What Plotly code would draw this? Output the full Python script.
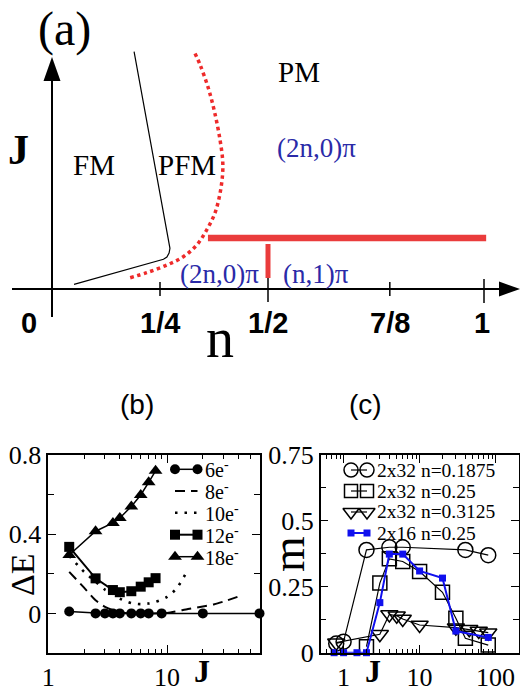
import math
import plotly.graph_objects as go

W, H = 520, 691
SERIF = "Liberation Serif"
SANS = "Liberation Sans"
BLUE_TXT = "#2a2aa8"
RED = "#ee2a2a"
BLUE = "#1010ee"

# ---------------- panel (a): schematic phase diagram (n, J units) ----------------
a_tick_n = [0.25, 0.5, 0.782, 1.0]
a_tick_labels = ["1/4", "1/2", "7/8", "1"]
a_tick_up = [0.07, 0.11, 0.07, 0.10]
a_tick_down = [0.07, 0.13, 0.07, 0.14]
fm_boundary_n = [0.051, 0.258, 0.266, 0.271, 0.273, 0.190]
fm_boundary_J = [0.047, 0.297, 0.32, 0.36, 0.407, 2.373]
pfm_boundary_n = [0.181, 0.219, 0.266, 0.304, 0.335, 0.358, 0.377, 0.389, 0.395,
                  0.395, 0.389, 0.377, 0.362, 0.343, 0.331]
pfm_boundary_J = [0.113, 0.163, 0.24, 0.323, 0.44, 0.59, 0.757, 0.957, 1.157,
                  1.29, 1.49, 1.757, 2.007, 2.24, 2.357]
bar_h_n = [0.361, 1.005]
bar_h_J = [0.51, 0.51]
bar_v_n = [0.5, 0.5]
bar_v_J = [0.45, 0.11]

# ---------------- panel (b): Delta E vs J ----------------
b_J_6 = [1.5, 2.5, 3, 3.5, 4, 5, 6, 7, 9, 20, 60]
b_dE_6 = [0.01, 0, 0, 0, 0, 0, 0, 0, 0, 0, 0]
b_J_8 = [1.5, 2, 2.5, 3, 3.5, 4, 5, 7, 10, 15, 20, 25, 30, 42]
b_dE_8 = [0.21, 0.13, 0.066, 0.033, 0.016, 0.005, 0.0, 0.0, 0.002, 0.022, 0.035, 0.046, 0.06, 0.09]
b_J_10 = [1.5, 2, 2.5, 3, 3.5, 4, 5, 6, 7, 8, 10, 12, 14.5]
b_dE_10 = [0.29, 0.21, 0.16, 0.12, 0.1, 0.075, 0.052, 0.047, 0.05, 0.058, 0.083, 0.125, 0.205]
b_J_12 = [1.5, 2.5, 3.5, 4, 5, 6, 7, 8]
b_dE_12 = [0.336, 0.177, 0.118, 0.107, 0.112, 0.135, 0.157, 0.178]
b_J_18 = [1.5, 2.5, 3.5, 4, 5, 6, 7, 8]
b_dE_18 = [0.295, 0.415, 0.457, 0.482, 0.54, 0.598, 0.662, 0.72]
b_legend = ["6e<sup>-</sup>", "8e<sup>-</sup>", "10e<sup>-</sup>", "12e<sup>-</sup>", "18e<sup>-</sup>"]
b_xticks = [1, 10]
b_xminor = [2, 3, 4, 5, 6, 7, 8, 9, 20, 30, 40, 50]
b_yticks = [0, 0.4, 0.8]
b_yticklabels = ["0", "0.4", "0.8"]
b_yminor = [0.2, 0.6]

# ---------------- panel (c): m vs J ----------------
c_J_1875 = [0.8, 1, 2, 4, 6, 40, 80]
c_m_1875 = [0.035, 0.042, 0.39, 0.40, 0.40, 0.39, 0.37]
c_J_25 = [2, 3, 4, 6, 10, 20, 30, 40, 80]
c_m_25 = [0.023, 0.264, 0.356, 0.346, 0.308, 0.229, 0.131, 0.055, 0.029]
c_J_3125 = [0.8, 3, 4, 5, 6, 10, 30, 45, 60, 80]
c_m_3125 = [0.038, 0.07, 0.145, 0.14, 0.128, 0.105, 0.095, 0.089, 0.082, 0.076]
c_J_16 = [0.75, 1, 1.5, 2, 3, 4, 6, 10, 20, 30, 80]
c_m_16 = [0, 0, 0, 0, 0.19, 0.374, 0.374, 0.31, 0.283, 0.082, 0.058]
c_legend = ["2x32 n=0.1875", "2x32 n=0.25", "2x32 n=0.3125", "2x16 n=0.25"]
c_xticks = [1, 10, 100]
c_xminor = [0.6, 0.7, 0.8, 0.9, 2, 3, 4, 5, 6, 7, 8, 9, 20, 30, 40, 50, 60, 70, 80, 90]
c_yticks = [0, 0.25, 0.5, 0.75]
c_yticklabels = ["0", "0.25", "0.5", "0.75"]
c_yminor = [0.125, 0.375, 0.625]


def px(x):
    return x / W


def py(y):
    return 1 - y / H


# axis geometry of panel (a): n=0 at pixel 52, 432 px per unit; J=0 at pixel 289, 100 px per unit
def an(x):
    return (x - 52) / 432


def aJ(y):
    return (289 - y) / 100


fig = go.Figure()

# ---- panel (a) traces ----
fig.add_trace(go.Scatter(x=fm_boundary_n, y=fm_boundary_J, mode="lines", xaxis="x", yaxis="y",
                         line=dict(color="black", width=1.2), showlegend=False, hoverinfo="skip"))
fig.add_trace(go.Scatter(x=pfm_boundary_n, y=pfm_boundary_J, mode="lines", xaxis="x", yaxis="y",
                         line=dict(color=RED, width=3.5, dash="dot", shape="spline"),
                         showlegend=False, hoverinfo="skip"))
fig.add_trace(go.Scatter(x=bar_h_n, y=bar_h_J, mode="lines", xaxis="x", yaxis="y",
                         line=dict(color="#ea3c3c", width=6.5), showlegend=False, hoverinfo="skip"))
fig.add_trace(go.Scatter(x=bar_v_n, y=bar_v_J, mode="lines", xaxis="x", yaxis="y",
                         line=dict(color="#ea3c3c", width=5), showlegend=False, hoverinfo="skip"))

shapes = []
# axes of the diagram
shapes.append(dict(type="line", xref="x", yref="y", x0=an(12), y0=0, x1=an(502), y1=0,
                   line=dict(color="black", width=2)))
shapes.append(dict(type="line", xref="x", yref="y", x0=0, y0=aJ(317), x1=0, y1=aJ(78),
                   line=dict(color="black", width=2)))
shapes.append(dict(type="path", xref="x", yref="y",
                   path=f"M {an(520)},0 L {an(499)},{aJ(281.5)} L {an(499)},{aJ(296.5)} Z",
                   fillcolor="black", line=dict(width=0)))
shapes.append(dict(type="path", xref="x", yref="y",
                   path=f"M 0,{aJ(57)} L {an(43.5)},{aJ(81)} L {an(60.5)},{aJ(81)} Z",
                   fillcolor="black", line=dict(width=0)))
for tn, up, dn in zip(a_tick_n, a_tick_up, a_tick_down):
    shapes.append(dict(type="line", xref="x", yref="y", x0=tn, y0=-dn, x1=tn, y1=up,
                       line=dict(color="black", width=1.5)))

annotations = []


def atext(x, y, t, size, color="black", family=SERIF, xref="x", yref="y", angle=0,
          xanchor="center", yanchor="middle"):
    annotations.append(dict(x=x, y=y, xref=xref, yref=yref, text=t, showarrow=False,
                            xanchor=xanchor, yanchor=yanchor, textangle=angle,
                            font=dict(family=family, size=size, color=color)))


atext(px(64), 1.0, "(a)", 48, xref="paper", yref="paper", yanchor="top")
atext(an(299), aJ(72), "PM", 29)
atext(an(94), aJ(165), "FM", 29)
atext(an(187), aJ(165), "PFM", 29)
atext(an(316), aJ(148), "(2n,0)π", 27, BLUE_TXT)
atext(an(219), aJ(274), "(2n,0)π", 27, BLUE_TXT)
atext(an(316), aJ(274), "(n,1)π", 27, BLUE_TXT)
atext(an(18), aJ(150), "<b>J</b>", 42)
atext(an(29), aJ(323), "<b>0</b>", 29, family=SANS)
for tn, tl in zip(a_tick_n, a_tick_labels):
    atext(tn - 0.004 if tl == "1" else tn, aJ(323), f"<b>{tl}</b>", 29, family=SANS)
atext(an(220), aJ(338), "n", 56)

# ---- panel (b) traces ----
bk = dict(xaxis="x2", yaxis="y2", showlegend=False, cliponaxis=False, hoverinfo="skip")
fig.add_trace(go.Scatter(x=b_J_8, y=b_dE_8, mode="lines",
                         line=dict(color="black", width=2, dash="10px,6px", shape="spline", smoothing=0.6), **bk))
fig.add_trace(go.Scatter(x=b_J_10, y=b_dE_10, mode="lines",
                         line=dict(color="black", width=2.6, dash="2.5px,7px", shape="spline", smoothing=0.6), **bk))
fig.add_trace(go.Scatter(x=b_J_6, y=b_dE_6, mode="lines+markers",
                         line=dict(color="black", width=1.5),
                         marker=dict(symbol="circle", size=10, color="black"), **bk))
fig.add_trace(go.Scatter(x=b_J_12, y=b_dE_12, mode="lines+markers",
                         line=dict(color="black", width=2),
                         marker=dict(symbol="square", size=10, color="black"), **bk))
fig.add_trace(go.Scatter(x=b_J_18, y=b_dE_18, mode="lines+markers",
                         line=dict(color="black", width=1.5),
                         marker=dict(symbol="triangle-up", size=12, color="black"), **bk))

# ---- panel (c) traces ----
ck = dict(xaxis="x3", yaxis="y3", showlegend=False, cliponaxis=False, hoverinfo="skip")
fig.add_trace(go.Scatter(x=c_J_1875, y=c_m_1875, mode="lines+markers",
                         line=dict(color="black", width=1.2),
                         marker=dict(symbol="circle-open", size=15, color="black", line=dict(width=1.5)), **ck))
fig.add_trace(go.Scatter(x=c_J_25, y=c_m_25, mode="lines+markers",
                         line=dict(color="black", width=1.2),
                         marker=dict(symbol="square-open", size=14, color="black", line=dict(width=1.5)), **ck))
fig.add_trace(go.Scatter(x=c_J_3125, y=c_m_3125, mode="lines+markers",
                         line=dict(color="black", width=1.2),
                         marker=dict(symbol="triangle-down-open", size=15, color="black", line=dict(width=1.5)), **ck))
fig.add_trace(go.Scatter(x=c_J_16, y=c_m_16, mode="lines+markers",
                         line=dict(color=BLUE, width=2),
                         marker=dict(symbol="square", size=7, color=BLUE), **ck))

# ---- manual legends (overlay axis in pixel units) ----
lk = dict(xaxis="x4", yaxis="y4", showlegend=False, cliponaxis=False, hoverinfo="skip")
b_rows = [469.3, 491, 512.7, 534.7, 556.7]
b_styles = [
    dict(mode="lines+markers", line=dict(color="black", width=1.5), marker=dict(symbol="circle", size=10, color="black")),
    dict(mode="lines", line=dict(color="black", width=2, dash="10px,6px")),
    dict(mode="lines", line=dict(color="black", width=2.6, dash="2.5px,7px")),
    dict(mode="lines+markers", line=dict(color="black", width=2), marker=dict(symbol="square", size=10, color="black")),
    dict(mode="lines+markers", line=dict(color="black", width=1.5), marker=dict(symbol="triangle-up", size=12, color="black")),
]
for yrow, st, lab in zip(b_rows, b_styles, b_legend):
    fig.add_trace(go.Scatter(x=[175, 197.5], y=[yrow, yrow], **st, **lk))
    atext(px(203), py(yrow), lab, 20, xref="paper", yref="paper", xanchor="left")

c_rows = [470, 491, 512, 533]
c_styles = [
    dict(mode="lines+markers", line=dict(color="black", width=1.2),
         marker=dict(symbol="circle-open", size=14, color="black", line=dict(width=1.5))),
    dict(mode="lines+markers", line=dict(color="black", width=1.2),
         marker=dict(symbol="square-open", size=13, color="black", line=dict(width=1.5))),
    dict(mode="lines+markers", line=dict(color="black", width=1.2),
         marker=dict(symbol="triangle-down-open", size=14, color="black", line=dict(width=1.5))),
    dict(mode="lines+markers", line=dict(color=BLUE, width=2), marker=dict(symbol="square", size=7, color=BLUE)),
]
for yrow, st, lab in zip(c_rows, c_styles, c_legend):
    fig.add_trace(go.Scatter(x=[351, 367], y=[yrow, yrow], **st, **lk))
    atext(px(375), py(yrow), lab, 19.5, xref="paper", yref="paper", xanchor="left")

# ---- panel labels / axis titles ----
atext(px(137), py(404), "(b)", 28, family=SANS, xref="paper", yref="paper")
atext(px(365), py(404), "(c)", 28, family=SANS, xref="paper", yref="paper")
atext(px(22), py(575), "ΔE", 34, xref="paper", yref="paper", angle=-90)
atext(px(288), py(554), "m", 46, xref="paper", yref="paper", angle=-90)
atext(px(202), py(671), "<b>J</b>", 32, xref="paper", yref="paper")
atext(px(373), 0.0, "<b>J</b>", 32, xref="paper", yref="paper", yanchor="bottom")

tickfont = dict(family=SERIF, size=26, color="black")
common = dict(showline=True, linecolor="black", linewidth=1.5, mirror="ticks", ticks="inside",
              ticklen=8, tickwidth=1.2, tickcolor="black", showgrid=False, zeroline=False,
              tickfont=tickfont, fixedrange=True)

fig.update_layout(
    width=W, height=H, autosize=False, margin=dict(l=0, r=0, t=0, b=0, pad=0, autoexpand=False),
    paper_bgcolor="white", plot_bgcolor="rgba(0,0,0,0)",
    showlegend=False,
    xaxis=dict(domain=[0, 1], range=[an(0), an(W)], visible=False, fixedrange=True),
    yaxis=dict(domain=[0, 1], range=[aJ(H), aJ(0)], visible=False, fixedrange=True),
    xaxis2=dict(domain=[px(48.3), px(259.5)], anchor="y2", type="log",
                range=[0, math.log10(60)], tickmode="array", tickvals=b_xticks,
                ticktext=[str(v) for v in b_xticks],
                minor=dict(tickmode="array", tickvals=b_xminor, ticks="inside", ticklen=4,
                           tickwidth=1.2, tickcolor="black"), **common),
    yaxis2=dict(domain=[py(653), py(455)], anchor="x2", range=[-0.2, 0.8],
                tickmode="array", tickvals=b_yticks, ticktext=b_yticklabels,
                minor=dict(tickmode="array", tickvals=b_yminor, ticks="inside", ticklen=6,
                           tickwidth=1.2, tickcolor="black"), **common),
    xaxis3=dict(domain=[px(320.7), px(518.5)], anchor="y3", type="log",
                range=[math.log10(0.5), math.log10(200)], tickmode="array", tickvals=c_xticks,
                ticktext=[str(v) for v in c_xticks],
                minor=dict(tickmode="array", tickvals=c_xminor, ticks="inside", ticklen=4,
                           tickwidth=1.2, tickcolor="black"), **common),
    yaxis3=dict(domain=[py(652.7), py(455)], anchor="x3", range=[0, 0.75],
                tickmode="array", tickvals=c_yticks, ticktext=c_yticklabels,
                minor=dict(tickmode="array", tickvals=c_yminor, ticks="inside", ticklen=6,
                           tickwidth=1.2, tickcolor="black"), **common),
    xaxis4=dict(domain=[0, 1], anchor="y4", range=[0, W], visible=False, fixedrange=True),
    yaxis4=dict(domain=[0, 1], anchor="x4", range=[H, 0], visible=False, fixedrange=True),
    shapes=shapes,
    annotations=annotations,
)

fig.write_html(
    "out.html",
    config={"responsive": False, "displayModeBar": False},
    post_script="document.documentElement.style.margin='0';document.body.style.margin='0';"
                "document.body.style.padding='0';document.body.style.overflow='hidden';",
)
